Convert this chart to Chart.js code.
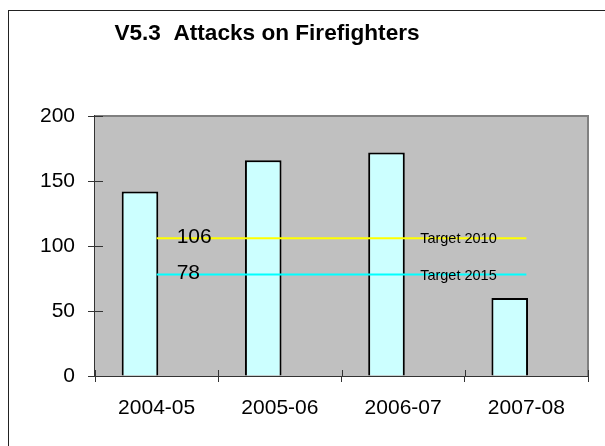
<!DOCTYPE html>
<html>
<head>
<meta charset="utf-8">
<script src="https://cdn.jsdelivr.net/npm/chart.js@4.4.0/dist/chart.umd.min.js"></script>
<style>
  body { margin: 0; background: #fff; }
  #wrap { position: relative; width: 605px; height: 446px; overflow: hidden; }
  #frame { position: absolute; left: 8px; top: 10px; width: 700px; height: 500px; border: 1px solid #222; box-sizing: border-box; }
  #myChart { position: absolute; left: 0; top: 0; }
</style>
</head>
<body>
<div id="wrap">
  <div id="frame"></div>
  <canvas id="myChart" width="605" height="446"></canvas>
</div>
<script>
const chartTitle = "V5.3  Attacks on Firefighters";
const years = ["2004-05", "2005-06", "2006-07", "2007-08"];
const attacks = [142, 166, 172, 60];
const target2010 = [106, 106, 106, 106];
const target2015 = [78, 78, 78, 78];
const yTicks = [0, 50, 100, 150, 200];

const FONT = "'Liberation Sans', Arial, sans-serif";

// grey plot area, frame lines and the little ticks inside the plot
const plotBox = {
  id: "plotBox",
  beforeDatasetsDraw(chart) {
    const { ctx, chartArea: a } = chart;
    ctx.save();
    ctx.fillStyle = "#C0C0C0";
    ctx.fillRect(a.left, a.top, a.right - a.left, a.bottom - a.top);
    ctx.strokeStyle = "#808080";
    ctx.lineWidth = 2;
    ctx.beginPath();
    ctx.moveTo(a.left, a.top);
    ctx.lineTo(a.right, a.top);
    ctx.lineTo(a.right, a.bottom);
    ctx.stroke();
    ctx.restore();
  },
  afterDraw(chart) {
    const { ctx, chartArea: a, scales } = chart;
    ctx.save();
    ctx.strokeStyle = "#333";
    ctx.lineWidth = 1;
    ctx.beginPath();
    yTicks.forEach((v) => {
      const y = Math.round(scales.y.getPixelForValue(v)) + 0.5;
      ctx.moveTo(a.left, y);
      ctx.lineTo(a.left + 8, y);
    });
    const step = (a.right - a.left) / years.length;
    for (let i = 0; i <= years.length; i++) {
      const x = Math.round(a.left + i * step) + 0.5;
      ctx.moveTo(x, a.bottom);
      ctx.lineTo(x, a.bottom - 6);
    }
    ctx.stroke();

    // target labels
    const x0 = scales.x.getPixelForValue(0);
    const x2 = scales.x.getPixelForValue(2);
    ctx.fillStyle = "#000";
    ctx.textBaseline = "middle";
    ctx.textAlign = "left";
    ctx.font = "21px " + FONT;
    ctx.fillText(String(target2010[0]), x0 + 20, scales.y.getPixelForValue(target2010[0]) - 1);
    ctx.fillText(String(target2015[0]), x0 + 20, scales.y.getPixelForValue(target2015[0]) - 1);
    ctx.font = "14.5px " + FONT;
    ctx.fillText("Target 2010", x2 + 17, scales.y.getPixelForValue(target2010[0]) + 1);
    ctx.fillText("Target 2015", x2 + 17, scales.y.getPixelForValue(target2015[0]) + 1);

    // title
    ctx.font = "bold 22.6px " + FONT;
    ctx.textAlign = "center";
    ctx.textBaseline = "alphabetic";
    ctx.fillText(chartTitle, 267, 40);
    ctx.restore();
  },
};

const ctx = document.getElementById("myChart");

new Chart(ctx, {
  type: "bar",
  data: {
    labels: years,
    datasets: [
      {
        label: "Attacks",
        data: attacks,
        backgroundColor: "#CCFFFF",
        borderColor: "#000",
        borderWidth: 2,
        categoryPercentage: 0.54,
        barPercentage: 1.1,
        order: 2,
      },
      {
        label: "",
        data: [null, null, null, null],
        categoryPercentage: 0.54,
        barPercentage: 1.1,
        order: 3,
      },
      {
        type: "line",
        label: "Target 2010",
        data: target2010,
        borderColor: "#FFFF00",
        borderWidth: 2,
        pointRadius: 0,
        order: 0,
      },
      {
        type: "line",
        label: "Target 2015",
        data: target2015,
        borderColor: "#00FFFF",
        borderWidth: 2,
        pointRadius: 0,
        order: 1,
      },
    ],
  },
  options: {
    responsive: false,
    animation: false,
    layout: { padding: { top: 116, right: 17, left: 0, bottom: 0 } },
    plugins: {
      legend: { display: false },
      tooltip: { enabled: false },
      title: { display: false },
    },
    scales: {
      x: {
        grid: {
          offset: true,
          drawOnChartArea: false,
          drawTicks: true,
          tickLength: 6,
          color: "#333",
        },
        border: { display: true, color: "#333", width: 1 },
        ticks: { color: "#000", font: { family: FONT, size: 21 }, padding: 14, maxRotation: 0 },
        afterFit(scale) { scale.height = 70; },
      },
      y: {
        min: 0,
        max: 200,
        afterBuildTicks(scale) { scale.ticks = yTicks.map((v) => ({ value: v })); },
        grid: {
          drawOnChartArea: false,
          drawTicks: true,
          tickLength: 7,
          color: "#333",
        },
        border: { display: true, color: "#333", width: 2 },
        ticks: { color: "#000", font: { family: FONT, size: 21 }, padding: 13 },
        afterFit(scale) { scale.width = 95; },
      },
    },
  },
  plugins: [plotBox],
});
</script>
</body>
</html>
